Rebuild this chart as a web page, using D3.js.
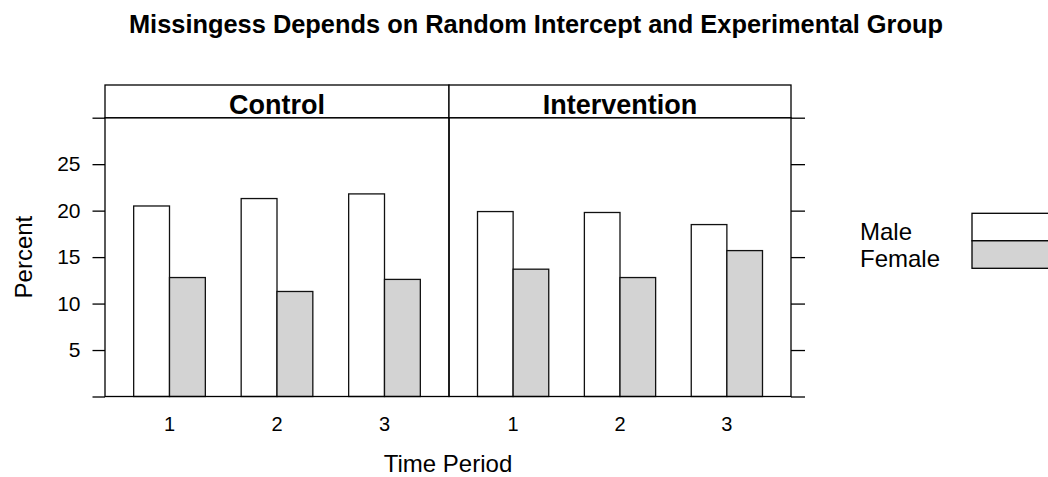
<!DOCTYPE html>
<html>
<head>
<meta charset="utf-8">
<script src="https://cdn.jsdelivr.net/npm/d3@7"></script>
<style>
  body { margin: 0; background: #fff; }
  svg { display: block; font-family: "Liberation Sans", Arial, sans-serif; }
</style>
</head>
<body>
<div id="chart"></div>
<script>
// data
var periods = ["1", "2", "3"];
var groups = ["Control", "Intervention"];
var sexes = ["Male", "Female"];
var controlMale = [20.5, 21.3, 21.8];
var controlFemale = [12.8, 11.3, 12.6];
var interventionMale = [19.9, 19.8, 18.5];
var interventionFemale = [13.7, 12.8, 15.7];
var yTicks = [0, 5, 10, 15, 20, 25, 30];

var values = {
  Control: { Male: controlMale, Female: controlFemale },
  Intervention: { Male: interventionMale, Female: interventionFemale }
};
var fills = { Male: "#ffffff", Female: "#d3d3d3" };

var width = 1048, height = 477;
var stripTop = 85, panelTop = 117.7, panelBottom = 396.5;
var panelEdges = [105, 449, 791];

var svg = d3.select("#chart").append("svg")
  .attr("width", width)
  .attr("height", height);

var y = d3.scaleLinear().domain([0, 30]).range([panelBottom, panelTop]);

// panels
groups.forEach(function(g, gi) {
  var x0 = panelEdges[gi], x1 = panelEdges[gi + 1];

  var x = d3.scaleBand()
    .domain(periods)
    .range([x0, x1])
    .paddingInner(1 / 3)
    .paddingOuter(0.2667);

  var xSex = d3.scaleBand()
    .domain(sexes)
    .range([0, x.bandwidth()]);

  var panel = svg.append("g");

  sexes.forEach(function(s) {
    panel.selectAll("rect.bar-" + s)
      .data(values[g][s])
      .enter()
      .append("rect")
      .attr("x", function(d, i) { return x(periods[i]) + xSex(s); })
      .attr("y", function(d) { return y(d); })
      .attr("width", xSex.bandwidth())
      .attr("height", function(d) { return y(0) - y(d); })
      .style("fill", fills[s])
      .style("stroke", "#111")
      .style("stroke-width", 1.3);
  });

  // panel border
  panel.append("rect")
    .attr("x", x0).attr("y", panelTop)
    .attr("width", x1 - x0).attr("height", panelBottom - panelTop)
    .style("fill", "none").style("stroke", "#000").style("stroke-width", 1.3);

  // strip
  panel.append("rect")
    .attr("x", x0).attr("y", stripTop)
    .attr("width", x1 - x0).attr("height", panelTop - stripTop)
    .style("fill", "#fff").style("stroke", "#000").style("stroke-width", 1.3);

  panel.append("text")
    .attr("x", (x0 + x1) / 2)
    .attr("y", 114)
    .attr("text-anchor", "middle")
    .style("font-size", "27px")
    .style("font-weight", "bold")
    .text(g);

  // x tick labels
  var xAxis = d3.axisBottom(x).tickSize(0).tickPadding(20);
  var xg = panel.append("g")
    .attr("transform", "translate(0," + panelBottom + ")")
    .call(xAxis);
  xg.select(".domain").remove();
  xg.selectAll("text")
    .style("font-size", "20px")
    .style("font-family", "Liberation Sans, Arial, sans-serif")
    .attr("fill", "#000");
});

// y axis left
var yLeft = d3.axisLeft(y)
  .tickValues(yTicks)
  .tickSize(12.5)
  .tickPadding(12)
  .tickFormat(function(d) { return (d === 0 || d === 30) ? "" : d; });
var ylg = svg.append("g")
  .attr("transform", "translate(" + panelEdges[0] + ",0)")
  .call(yLeft);
ylg.select(".domain").remove();
ylg.selectAll("line").attr("stroke", "#000").attr("stroke-width", 1.3);
ylg.selectAll("text")
  .style("font-size", "21px")
  .style("font-family", "Liberation Sans, Arial, sans-serif")
  .attr("fill", "#000");

// y axis right (ticks only)
var yRight = d3.axisRight(y)
  .tickValues(yTicks)
  .tickSize(14)
  .tickFormat("");
var yrg = svg.append("g")
  .attr("transform", "translate(" + panelEdges[2] + ",0)")
  .call(yRight);
yrg.select(".domain").remove();
yrg.selectAll("line").attr("stroke", "#000").attr("stroke-width", 1.3);

// titles
svg.append("text")
  .attr("x", 536)
  .attr("y", 33)
  .attr("text-anchor", "middle")
  .style("font-size", "25.4px")
  .style("font-weight", "bold")
  .text("Missingess Depends on Random Intercept and Experimental Group");

svg.append("text")
  .attr("x", 448)
  .attr("y", 472)
  .attr("text-anchor", "middle")
  .style("font-size", "24px")
  .text("Time Period");

svg.append("text")
  .attr("transform", "translate(32," + ((panelTop + panelBottom) / 2) + ") rotate(-90)")
  .attr("text-anchor", "middle")
  .style("font-size", "24px")
  .text("Percent");

// legend
var legend = svg.append("g");
var legY = d3.scaleBand().domain(sexes).range([213.3, 268.3]);
sexes.forEach(function(s) {
  legend.append("text")
    .attr("x", 860)
    .attr("y", legY(s) + legY.bandwidth() - 1)
    .style("font-size", "24px")
    .text(s);
  legend.append("rect")
    .attr("x", 972)
    .attr("y", legY(s))
    .attr("width", 110)
    .attr("height", legY.bandwidth())
    .style("fill", fills[s])
    .style("stroke", "#000")
    .style("stroke-width", 1.3);
});
</script>
</body>
</html>
